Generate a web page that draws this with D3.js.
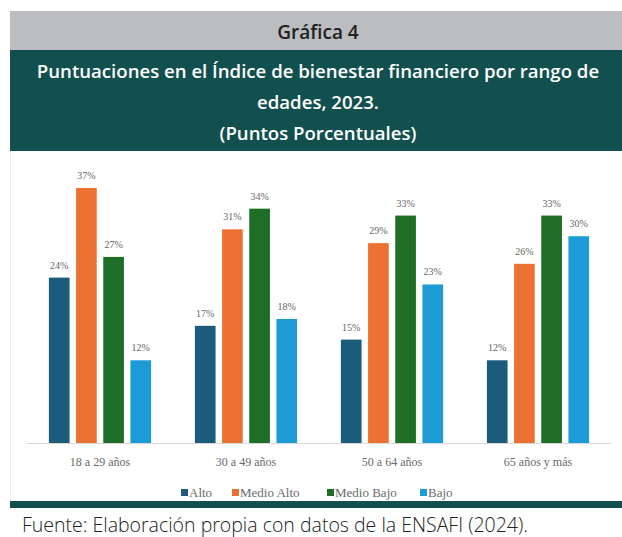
<!DOCTYPE html>
<html>
<head>
<meta charset="utf-8">
<script src="https://cdn.jsdelivr.net/npm/d3@7"></script>
<style>
  body { margin: 0; background: #fff; }
  svg { display: block; }
</style>
</head>
<body>
<svg id="chart" width="622" height="537"></svg>
<script>
// data
var groups = ["18 a 29 años", "30 a 49 años", "50 a 64 años", "65 años y más"];
var seriesNames = ["Alto", "Medio Alto", "Medio Bajo", "Bajo"];
var alto = [24, 17, 15, 12];
var medioAlto = [37, 31, 29, 26];
var medioBajo = [27, 34, 33, 33];
var bajo = [12, 18, 23, 30];
var colors = ["#1b5b7c", "#ec7132", "#1e6e27", "#1d9bd7"];

var titleLines = ["Puntuaciones en el Índice de bienestar financiero por rango de",
  "edades, 2023.", "(Puntos Porcentuales)"];

var svg = d3.select("#chart");
var W = 622, H = 537;

// header bands
svg.append("rect").attr("x", 10).attr("y", 11).attr("width", W - 10).attr("height", 39).attr("fill", "#bcbdc0");
svg.append("text").attr("x", 318).attr("y", 39).attr("text-anchor", "middle")
  .style("font-family", "Open Sans").style("font-size", "19px").style("font-weight", 600)
  .attr("fill", "#222").text("Gráfica 4");

svg.append("rect").attr("x", 10).attr("y", 50).attr("width", W - 10).attr("height", 101).attr("fill", "#124f4f");
titleLines.forEach(function(t, i) {
  svg.append("text").attr("x", 318).attr("y", 78 + i * 31).attr("text-anchor", "middle")
    .style("font-family", "Open Sans").style("font-size", "18.6px").style("font-weight", 600)
    .attr("fill", "#fff").text(t);
});

// left border of the chart box
svg.append("line").attr("x1", 10.5).attr("x2", 10.5).attr("y1", 151).attr("y2", 501)
  .style("stroke", "#ececec").style("stroke-width", 1);

// bottom band
svg.append("rect").attr("x", 10).attr("y", 501).attr("width", W - 10).attr("height", 7).attr("fill", "#124f4f");

var table = groups.map(function(g, i) {
  return { group: g, values: [alto[i], medioAlto[i], medioBajo[i], bajo[i]] };
});

var x0 = d3.scaleBand().domain(groups).range([27, 611]).paddingInner(0.3).paddingOuter(0.15);
var x1 = d3.scaleBand().domain(seriesNames).range([0, x0.bandwidth()]).paddingInner(0.24);
var y = d3.scaleLinear().domain([0, 37]).range([443, 188]);

// baseline
svg.append("line").attr("x1", 27).attr("x2", 612).attr("y1", 443.5).attr("y2", 443.5)
  .style("stroke", "#d9d9d9").style("stroke-width", 1);

var g = svg.selectAll(".grp").data(table).enter().append("g")
  .attr("class", "grp")
  .attr("transform", function(d) { return "translate(" + x0(d.group) + ",0)"; });

g.selectAll("rect").data(function(d) { return d.values; }).enter().append("rect")
  .attr("x", function(d, i) { return x1(seriesNames[i]); })
  .attr("y", function(d) { return y(d); })
  .attr("width", x1.bandwidth())
  .attr("height", function(d) { return 443 - y(d); })
  .attr("fill", function(d, i) { return colors[i]; });

g.selectAll(".val").data(function(d) { return d.values; }).enter().append("text")
  .attr("class", "val")
  .attr("x", function(d, i) { return x1(seriesNames[i]) + x1.bandwidth() / 2; })
  .attr("y", function(d) { return y(d) - 9; })
  .attr("text-anchor", "middle")
  .style("font-family", "Liberation Serif").style("font-size", "10px")
  .attr("fill", "#666").text(function(d) { return d + "%"; });

// category labels
svg.selectAll(".cat").data(groups).enter().append("text")
  .attr("class", "cat")
  .attr("x", function(d) { return x0(d) + x0.bandwidth() / 2; })
  .attr("y", 466)
  .attr("text-anchor", "middle")
  .style("font-family", "Liberation Serif").style("font-size", "12px")
  .attr("fill", "#6a6a6a").text(function(d) { return d; });

// legend
var legX = [181, 232, 327, 420];
var leg = svg.selectAll(".leg").data(seriesNames).enter().append("g")
  .attr("class", "leg")
  .attr("transform", function(d, i) { return "translate(" + legX[i] + ",497)"; });
leg.append("rect").attr("x", 0).attr("y", -8).attr("width", 7).attr("height", 7)
  .attr("fill", function(d, i) { return colors[i]; });
leg.append("text").attr("x", 8).attr("y", 0)
  .style("font-family", "Liberation Serif").style("font-size", "13px")
  .attr("fill", "#6a6a6a").text(function(d) { return d; });

// source
svg.append("text").attr("x", 22).attr("y", 532)
  .style("font-family", "Open Sans").style("font-size", "19.5px").style("font-weight", 300)
  .attr("fill", "#222").text("Fuente: Elaboración propia con datos de la ENSAFI (2024).");
</script>
</body>
</html>
